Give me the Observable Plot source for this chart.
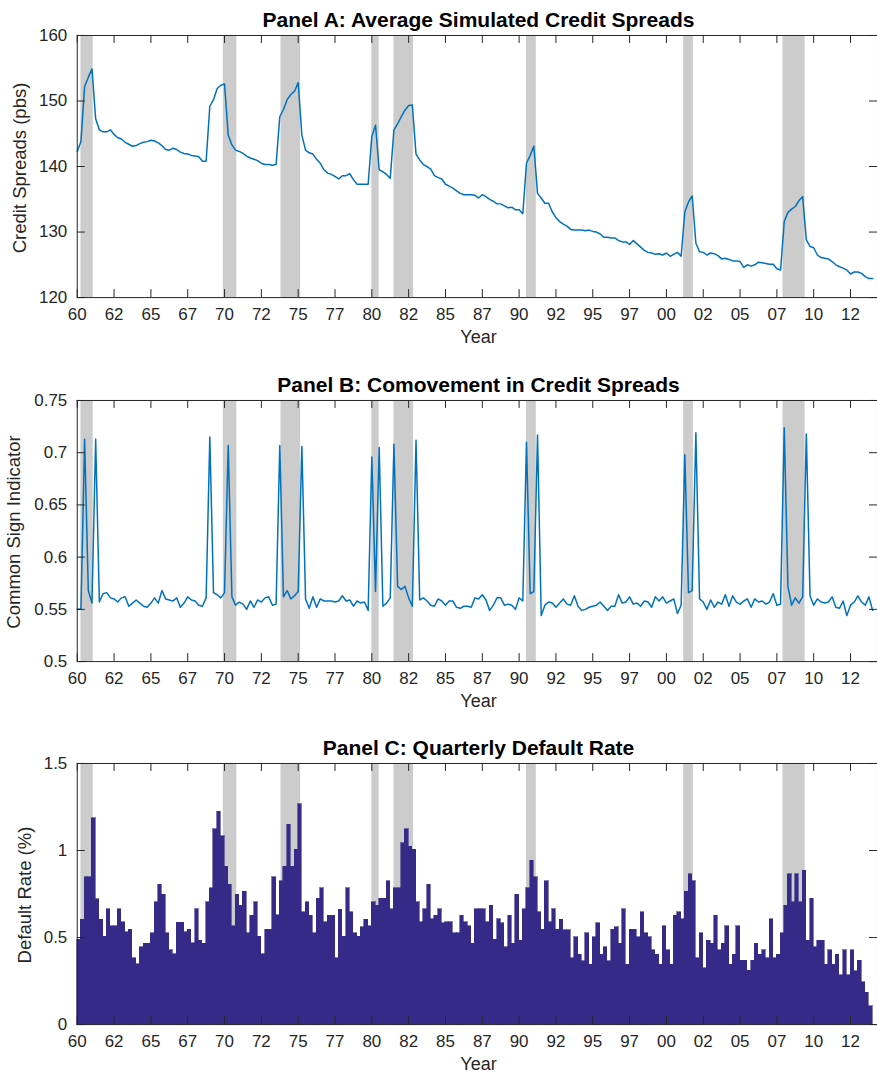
<!DOCTYPE html>
<html><head><meta charset="utf-8">
<script src="https://cdn.jsdelivr.net/npm/d3@7"></script>
<script src="https://cdn.jsdelivr.net/npm/@observablehq/plot@0.6"></script>
<style>
html,body{margin:0;padding:0;background:#fff;overflow:hidden;}
#root{position:relative;width:877px;height:1074px;overflow:hidden;font-family:"Liberation Sans",Arial,Helvetica,sans-serif;}
.title{position:absolute;left:77px;width:803px;text-align:center;font-weight:bold;font-size:21px;line-height:21px;color:#000;white-space:nowrap;}
.xlab{position:absolute;left:77px;width:803px;text-align:center;font-size:18px;line-height:18px;color:#262626;}
.ylab{position:absolute;font-size:18.5px;line-height:18px;color:#262626;white-space:nowrap;transform:translate(-50%,-50%) rotate(-90deg);}
.panel{position:absolute;left:0;}
</style></head><body><div id="root"></div>
<script>
// ---- Data (quarterly, first value = 1960Q1) ----
const firstYear = 1960;

const creditSpreads = [
142.3,143.8,152.2,153.6,154.9,147.3,145.6,145.3,145.3,145.6,144.9,144.4,144.2,143.7,143.4,143.1,143.2,143.5,143.7,143.8,
144.0,143.9,143.6,143.2,142.6,142.5,142.8,142.6,142.2,142.0,141.9,141.7,141.6,141.5,140.8,140.8,149.2,150.2,151.9,152.4,
152.6,144.8,143.3,142.5,142.3,142.0,141.6,141.3,141.1,140.9,140.5,140.3,140.3,140.2,140.3,147.6,148.7,150.2,151.0,151.5,
152.8,144.8,142.5,142.1,141.9,141.1,140.5,139.5,139.0,138.8,138.5,138.1,138.6,138.6,138.9,138.0,137.3,137.3,137.3,137.3,
144.6,146.3,139.5,139.2,138.8,138.2,145.6,146.5,147.6,148.6,149.3,149.4,141.9,141.0,140.3,140.0,139.6,138.6,138.3,138.1,
137.3,137.0,136.7,136.3,135.9,135.7,135.7,135.7,135.6,135.2,135.7,135.4,135.0,134.7,134.3,134.3,134.0,133.7,133.8,133.4,
133.4,132.8,140.5,141.7,143.1,135.9,135.2,134.4,134.4,133.1,132.2,131.6,131.2,130.9,130.4,130.3,130.3,130.3,130.2,130.3,
130.1,130.0,129.7,129.2,129.2,129.1,129.1,128.7,128.5,128.5,128.1,128.7,128.2,127.7,127.2,126.9,126.8,126.6,126.7,126.5,
126.8,126.3,126.6,126.9,126.3,133.1,134.6,135.5,128.3,127.0,126.9,126.5,126.8,126.7,126.4,125.9,126.0,125.8,125.6,125.6,
125.5,124.6,125.0,124.8,125.0,125.4,125.3,125.2,125.1,125.1,124.4,124.2,131.6,133.0,133.5,133.9,134.8,135.4,128.8,127.8,
127.6,126.5,126.1,126.0,125.9,125.5,125.0,124.7,124.5,124.2,123.6,123.9,123.9,123.7,123.2,122.9,122.9
];

const commonSign = [
0.550,0.550,0.713,0.568,0.556,0.713,0.557,0.565,0.566,0.561,0.560,0.557,0.561,0.562,0.553,0.556,0.559,0.556,0.553,0.552,
0.556,0.561,0.556,0.568,0.560,0.559,0.558,0.561,0.552,0.556,0.562,0.559,0.558,0.554,0.553,0.561,0.715,0.566,0.564,0.561,
0.566,0.707,0.562,0.554,0.557,0.555,0.550,0.558,0.552,0.559,0.557,0.561,0.562,0.554,0.555,0.707,0.562,0.568,0.560,0.563,
0.567,0.706,0.560,0.551,0.562,0.552,0.560,0.558,0.558,0.558,0.557,0.558,0.563,0.558,0.559,0.553,0.558,0.556,0.557,0.549,
0.696,0.567,0.705,0.553,0.556,0.561,0.708,0.572,0.569,0.572,0.561,0.553,0.712,0.559,0.561,0.558,0.554,0.553,0.560,0.558,
0.554,0.558,0.558,0.552,0.551,0.553,0.553,0.552,0.561,0.560,0.564,0.559,0.549,0.554,0.561,0.561,0.554,0.555,0.554,0.550,
0.561,0.558,0.710,0.565,0.567,0.717,0.544,0.554,0.557,0.556,0.552,0.556,0.560,0.555,0.554,0.563,0.553,0.549,0.550,0.552,
0.553,0.554,0.557,0.553,0.549,0.553,0.553,0.564,0.556,0.557,0.562,0.555,0.556,0.553,0.558,0.557,0.552,0.562,0.558,0.562,
0.556,0.558,0.560,0.546,0.554,0.698,0.566,0.568,0.719,0.560,0.557,0.550,0.559,0.552,0.557,0.555,0.564,0.553,0.563,0.557,
0.555,0.558,0.560,0.552,0.560,0.557,0.558,0.555,0.557,0.565,0.554,0.555,0.724,0.572,0.554,0.561,0.556,0.562,0.718,0.563,
0.554,0.560,0.557,0.556,0.557,0.562,0.552,0.551,0.558,0.544,0.554,0.557,0.563,0.557,0.554,0.562,0.549
];

const defaultRate = [
0.487,0.602,0.847,0.847,1.185,0.720,0.602,0.506,0.663,0.564,0.564,0.663,0.587,0.529,0.545,0.382,0.348,0.445,0.464,0.464,
0.525,0.703,0.803,0.745,0.525,0.426,0.405,0.585,0.585,0.529,0.545,0.468,0.663,0.483,0.464,0.703,0.783,1.122,1.223,1.083,
0.908,0.803,0.564,0.745,0.682,0.764,0.525,0.625,0.703,0.506,0.405,0.545,0.545,0.845,0.627,0.822,0.908,1.147,0.908,1.003,
1.265,0.644,0.703,0.625,0.525,0.722,0.783,0.587,0.625,0.625,0.382,0.659,0.506,0.783,0.644,0.525,0.506,0.560,0.602,0.564,
0.703,0.684,0.722,0.722,0.822,0.663,0.783,0.783,1.041,1.122,1.022,1.003,0.703,0.587,0.663,0.803,0.606,0.625,0.663,0.583,
0.587,0.587,0.525,0.525,0.625,0.587,0.564,0.464,0.663,0.663,0.663,0.587,0.684,0.487,0.606,0.583,0.445,0.625,0.464,0.745,
0.483,0.663,0.783,0.942,0.845,0.644,0.545,0.822,0.587,0.663,0.545,0.602,0.541,0.541,0.382,0.503,0.401,0.363,0.525,0.344,
0.503,0.583,0.401,0.443,0.363,0.545,0.560,0.464,0.663,0.344,0.545,0.545,0.503,0.644,0.525,0.503,0.426,0.401,0.344,0.564,
0.426,0.344,0.625,0.644,0.606,0.764,0.864,0.822,0.382,0.525,0.325,0.483,0.464,0.625,0.426,0.464,0.564,0.344,0.401,0.564,
0.367,0.367,0.310,0.367,0.464,0.401,0.426,0.382,0.606,0.382,0.401,0.525,0.684,0.864,0.703,0.864,0.703,0.883,0.483,0.722,
0.445,0.483,0.483,0.344,0.426,0.344,0.401,0.283,0.426,0.283,0.426,0.306,0.367,0.243,0.182,0.105
];

// NBER recessions (fractional years)
const recessionStart = [1960.25, 1969.917, 1973.833, 1980.0, 1981.5, 1990.5, 2001.167, 2007.917];
const recessionEnd   = [1961.083, 1970.833, 1975.167, 1980.5, 1982.833, 1991.167, 2001.833, 2009.417];

// Tick values
const xTickValues = [1960,1962.5,1965,1967.5,1970,1972.5,1975,1977.5,1980,1982.5,1985,1987.5,1990,1992.5,1995,1997.5,2000,2002.5,2005,2007.5,2010,2012.5];
const yTicksA = [120,130,140,150,160];
const yTicksB = [0.5,0.55,0.6,0.65,0.7,0.75];
const yTicksC = [0,0.5,1,1.5];

const titles = ["Panel A: Average Simulated Credit Spreads","Panel B: Comovement in Credit Spreads","Panel C: Quarterly Default Rate"];
const yLabels = ["Credit Spreads (pbs)","Common Sign Indicator","Default Rate (%)"];

// ---- Build ----
const rowsA = creditSpreads.map((v,i)=>({t: firstYear + i/4, v}));
const rowsB = commonSign.map((v,i)=>({t: firstYear + i/4, v}));
const rowsC = defaultRate.map((v,i)=>({t: firstYear + i/4, t2: firstYear + (i+1)/4, v}));
const recessions = recessionStart.map((s,i)=>({start: s, end: recessionEnd[i]}));

const W = 880, ML = 77, PX_PER_YEAR = 14.78;
const xDomain = [1960, 1960 + (W - ML) / PX_PER_YEAR];
const AX = "#262626";
const FONT = '"Liberation Sans", Arial, Helvetica, sans-serif';
const xFmt = d => String(Math.floor(d) % 100).padStart(2, "0");

const root = document.getElementById("root");

function panel({axisTop, plotH, yDomain, yTicks, dataMarks}) {
  const mt = 5, mb = 32;
  const plotW = W - ML;
  const svg = Plot.plot({
    width: W, height: plotH + mt + mb,
    marginLeft: ML, marginRight: 0, marginTop: mt, marginBottom: mb,
    style: {fontFamily: FONT, fontSize: "17px", color: AX, background: "transparent", overflow: "visible"},
    x: {domain: xDomain},
    y: {domain: yDomain},
    marks: [
      Plot.rect(recessions, {x1: "start", x2: "end", y1: yDomain[0], y2: yDomain[1], fill: "#cccccc"}),
      ...dataMarks,
      Plot.tickX(xTickValues, {x: d => d, insetTop: plotH - 8, stroke: AX}),
      Plot.tickX(xTickValues, {x: d => d, insetBottom: plotH - 8, stroke: AX}),
      Plot.tickY(yTicks, {y: d => d, insetRight: plotW - 8, stroke: AX}),
      Plot.tickY(yTicks, {y: d => d, insetLeft: plotW - 8, stroke: AX}),
      Plot.frame({stroke: AX, strokeWidth: 1}),
      Plot.axisX(xTickValues, {tickSize: 0, tickPadding: 10, tickFormat: xFmt, label: null, fontSize: 17}),
      Plot.axisY(yTicks, {tickSize: 0, tickPadding: 10, tickFormat: d => String(d), label: null, fontSize: 17})
    ]
  });
  svg.classList.add("panel");
  svg.style.top = (axisTop - mt) + "px";
  root.appendChild(svg);
}

function addText(cls, text, style) {
  const d = document.createElement("div");
  d.className = cls; d.textContent = text;
  Object.assign(d.style, style);
  root.appendChild(d);
}

const blue = "#0072BD";
const navy = "#352A87";
const panels = [
  {axisTop: 35, plotH: 263, yDomain: [120,160], yTicks: yTicksA,
   dataMarks: [Plot.line(rowsA, {x: "t", y: "v", stroke: blue, strokeWidth: 1.5})], labX: 19.5},
  {axisTop: 400, plotH: 262, yDomain: [0.5,0.75], yTicks: yTicksB,
   dataMarks: [Plot.line(rowsB, {x: "t", y: "v", stroke: blue, strokeWidth: 1.5})], labX: 13.5},
  {axisTop: 763, plotH: 262, yDomain: [0,1.5], yTicks: yTicksC,
   dataMarks: [Plot.rectY(rowsC, {x1: "t", x2: "t2", y: "v", fill: navy, stroke: navy, strokeWidth: 0.6, inset: 0, shapeRendering: "crispEdges"})], labX: 24.5}
];

panels.forEach((p, i) => {
  panel(p);
  const axisBottom = p.axisTop + p.plotH;
  addText("title", titles[i], {top: (p.axisTop - 8.3 - 17.8) + "px"});
  addText("xlab", "Year", {top: (axisBottom + 45 - 15.2) + "px"});
  addText("ylab", yLabels[i], {left: p.labX + "px", top: (p.axisTop + p.plotH / 2 + 1) + "px"});
});
</script></body></html>
